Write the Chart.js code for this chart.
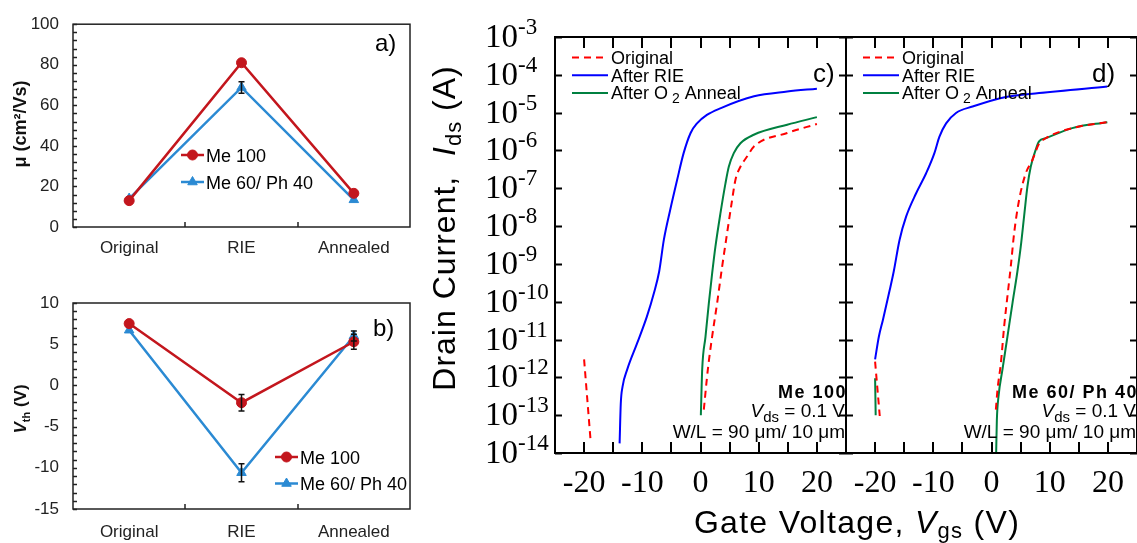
<!DOCTYPE html>
<html>
<head>
<meta charset="utf-8">
<title>Mobility, threshold voltage and transfer curves</title>
<script src="https://cdn.jsdelivr.net/npm/chart.js@4.4.1/dist/chart.umd.min.js"></script>
<style>
  body { margin: 0; background: #fff; }
  #wrap { position: relative; width: 1137px; height: 543px; overflow: hidden; }
  canvas { position: absolute; }
</style>
</head>
<body>
<div id="wrap">
  <canvas id="muChart" width="420" height="270" style="left:0;top:0"></canvas>
  <canvas id="vthChart" width="420" height="273" style="left:0;top:270px"></canvas>
  <canvas id="me100Chart" width="717" height="543" style="left:420px;top:0"></canvas>
  <canvas id="me60Chart" width="331" height="543" style="left:826px;top:0"></canvas>
</div>
<script>
//---- a), b) mobility / threshold voltage per process step
const stages = ['Original', 'RIE', 'Annealed'];
const muMe100 = [13.0, 81.0, 16.6];
const muMe100Err = [0, 0, 0];
const muMe60 = [14.0, 68.8, 13.4];
const muMe60Err = [0, 2.8, 0];
const vthMe100 = [7.5, -2.1, 5.3];
const vthMe100Err = [0, 1.0, 0.9];
const vthMe60 = [6.7, -10.6, 6.0];
const vthMe60Err = [0, 1.1, 0.6];

//---- c) Me 100 transfer curves: gate voltage (V) -> drain current (A)
const cOrigV = [0.57, 1.26, 2.0, 2.86, 3.72, 4.57, 5.43, 6.0, 6.86, 8.0, 9.15, 14.9, 20];
const cOrigI = [1.4e-13, 1.6e-12, 1.2e-11, 9.3e-11, 8.5e-10, 6.5e-9, 4.9e-8, 1.66e-7, 3.7e-7, 6.9e-7, 1.26e-6, 2.9e-6, 5.0e-6];
const cOrigTailV = [-20, -18.9];
const cOrigTailI = [3.0e-12, 2.3e-14];
const cRieV = [-13.9, -13.7, -13.4, -12.6, -10.9, -9.2, -8.0, -7.1, -6.3, -5.2, -4.0, -2.9, -1.7, -0.6, 1.1, 3.4, 9.2, 14.9, 20];
const cRieI = [1.8e-14, 2.0e-13, 5.6e-13, 1.6e-12, 7.9e-12, 4.1e-11, 1.7e-10, 6.3e-10, 4.3e-9, 2.7e-8, 1.7e-7, 8.5e-7, 2.9e-6, 5.2e-6, 8.7e-6, 1.3e-5, 2.7e-5, 3.6e-5, 4.3e-5];
const cAnnV = [0.06, 0.29, 0.86, 1.43, 2.0, 2.57, 3.43, 4.29, 4.86, 5.72, 6.86, 9.15, 14.9, 20];
const cAnnI = [1.0e-13, 1.6e-12, 1.2e-11, 9.1e-11, 5.6e-10, 2.9e-9, 2.2e-8, 1.35e-7, 3.7e-7, 8.5e-7, 1.55e-6, 2.6e-6, 4.8e-6, 7.6e-6];

//---- d) Me 60/ Ph 40 transfer curves
const dOrigV = [0.75, 1.03, 1.6, 2.17, 2.74, 3.31, 3.89, 4.74, 5.89, 7.03, 8.17, 9.3, 13.87, 19.9];
const dOrigI = [1.4e-13, 4.7e-13, 2.3e-12, 2.2e-11, 1.4e-10, 8.5e-10, 6.5e-9, 4.9e-8, 2.5e-7, 5.6e-7, 1.5e-6, 2.1e-6, 3.9e-6, 5.6e-6];
const dOrigTailV = [-20, -19.2];
const dOrigTailI = [2.6e-12, 9.5e-14];
const dRieV = [-20, -19.35, -18.66, -17.5, -16.8, -15.8, -14.66, -12.95, -11.23, -9.81, -8.96, -7.8, -6.1, -3.25, 2.46, 8.17, 19.9];
const dRieI = [3.0e-12, 1.2e-11, 3.3e-11, 2.0e-10, 6.3e-10, 4.3e-9, 1.8e-8, 7.4e-8, 2.5e-7, 8.5e-7, 2.3e-6, 5.2e-6, 9.8e-6, 1.45e-5, 2.6e-5, 3.3e-5, 4.9e-5];
const dAnnV = [0.8, 0.92, 1.2, 1.88, 2.74, 3.6, 4.45, 5.03, 5.6, 6.17, 6.74, 7.6, 8.17, 9.3, 13.87, 19.9];
const dAnnI = [1.0e-14, 7.4e-14, 3.1e-13, 1.6e-12, 1.2e-11, 9.1e-11, 6.3e-10, 2.9e-9, 1.8e-8, 1.1e-7, 3.7e-7, 1.05e-6, 1.74e-6, 2.1e-6, 3.9e-6, 5.6e-6];
const dAnnTailV = [-20, -19.9];
const dAnnTailI = [9.5e-13, 1.0e-13];

const decades = [-14, -13, -12, -11, -10, -9, -8, -7, -6, -5, -4, -3];
const gateTicks = [-25, -20, -15, -10, -5, 0, 5, 10, 15, 20, 25];

const sans = "'Liberation Sans', Arial, sans-serif";
const serif = "'Liberation Serif', 'Times New Roman', serif";
const red = '#C3161D';
const blue = '#2B8AD3';

// text made of runs with their own font / vertical shift (sub- and superscripts)
function richText(ctx, parts, x, y, align, angle) {
  ctx.save();
  ctx.translate(x, y);
  if (angle) ctx.rotate(angle);
  ctx.textBaseline = 'alphabetic';
  ctx.textAlign = 'left';
  let w = 0;
  parts.forEach(p => {
    ctx.font = p.font;
    ctx.letterSpacing = p.ls || '0px';
    p.w = ctx.measureText(p.t).width;
    w += p.w;
  });
  let cx = align === 'right' ? -w : align === 'center' ? -w / 2 : 0;
  parts.forEach(p => {
    ctx.font = p.font;
    ctx.letterSpacing = p.ls || '0px';
    ctx.fillStyle = p.color || '#000';
    ctx.fillText(p.t, cx, p.dy || 0);
    cx += p.w;
  });
  ctx.restore();
}

// plot frame with short ticks pointing inwards
const boxTicks = {
  id: 'boxTicks',
  afterDraw(chart, args, o) {
    const {ctx, chartArea: a, scales: {x, y}} = chart;
    ctx.save();
    ctx.strokeStyle = o.color;
    ctx.lineWidth = o.width;
    ctx.beginPath();
    (o.yTicks || []).forEach(v => {
      const py = Math.round(y.getPixelForValue(v)) + 0.5;
      ctx.moveTo(a.left, py); ctx.lineTo(a.left + o.yLen, py);
      if (o.mirror) { ctx.moveTo(a.right, py); ctx.lineTo(a.right - o.yLen, py); }
    });
    let xs = [];
    if (o.between) {
      for (let i = 0; i < chart.data.labels.length - 1; i++) {
        xs.push((x.getPixelForValue(i) + x.getPixelForValue(i + 1)) / 2);
      }
    } else {
      xs = (o.xTicks || []).map(v => x.getPixelForValue(v));
    }
    xs.forEach(px => {
      px = Math.round(px);
      ctx.moveTo(px, a.bottom); ctx.lineTo(px, a.bottom - o.xLen);
      if (o.mirror) { ctx.moveTo(px, a.top); ctx.lineTo(px, a.top + o.xLen); }
    });
    ctx.stroke();
    ctx.strokeRect(a.left, a.top, a.right - a.left, a.bottom - a.top);
    ctx.restore();
  }
};

// vertical error bars with caps, from dataset.errors
const errorBars = {
  id: 'errorBars',
  afterDatasetsDraw(chart) {
    const {ctx, scales: {y}} = chart;
    ctx.save();
    ctx.strokeStyle = '#111';
    ctx.lineWidth = 1.5;
    chart.data.datasets.forEach((ds, di) => {
      const meta = chart.getDatasetMeta(di);
      (ds.errors || []).forEach((e, i) => {
        if (!e) return;
        const px = meta.data[i].x;
        const top = y.getPixelForValue(ds.data[i] + e);
        const bot = y.getPixelForValue(ds.data[i] - e);
        ctx.beginPath();
        ctx.moveTo(px, top); ctx.lineTo(px, bot);
        ctx.moveTo(px - 3, top); ctx.lineTo(px + 3, top);
        ctx.moveTo(px - 3, bot); ctx.lineTo(px + 3, bot);
        ctx.stroke();
      });
    });
    ctx.restore();
  }
};

// series key drawn inside the plot
const seriesKey = {
  id: 'seriesKey',
  afterDraw(chart, args, o) {
    const ctx = chart.ctx;
    o.rows.forEach((di, k) => {
      const ds = chart.data.datasets[di];
      const y = o.y + k * o.gap;
      ctx.save();
      ctx.strokeStyle = ds.borderColor;
      ctx.lineWidth = ds.borderWidth;
      ctx.setLineDash(ds.borderDash || []);
      ctx.beginPath();
      ctx.moveTo(o.x, y); ctx.lineTo(o.x + o.len, y);
      ctx.stroke();
      ctx.setLineDash([]);
      if (ds.pointStyle && ds.pointRadius) {
        ctx.fillStyle = ds.backgroundColor;
        ctx.lineWidth = 1;
        Chart.helpers.drawPoint(ctx, {pointStyle: ds.pointStyle, radius: ds.pointRadius, borderWidth: 1, rotation: 0}, o.x + o.len / 2, y);
      }
      ctx.restore();
      const parts = ds.labelParts || [{t: ds.label, font: o.font}];
      richText(chart.ctx, parts, o.x + o.len + o.pad, y + o.shift, 'left');
    });
  }
};

// free text: panel letters, axis titles, device notes
const notes = {
  id: 'notes',
  afterDraw(chart, args, o) {
    o.items.forEach(it => richText(chart.ctx, it.parts, it.x, it.y, it.align, it.angle));
  }
};

// 10^n labels on the log current axis
const decadeLabels = {
  id: 'decadeLabels',
  afterDraw(chart, args, o) {
    const {ctx, scales: {y}} = chart;
    decades.forEach(n => {
      const py = y.getPixelForValue(Math.pow(10, n));
      richText(ctx, [
        {t: '10', font: '33px ' + serif},
        {t: '-' + Math.abs(n), font: '23px ' + serif, dy: -13}
      ], o.x, py + 10, 'left');
    });
  }
};

const tickFont = {family: sans, size: 17};
const flat = {display: false};
const noGrid = {display: false, drawTicks: false};

function stepChart(id, a, b, aErr, bErr, yMin, yMax, yStep, minor, pad, xH, xPad, yTitle, letter, key) {
  return new Chart(document.getElementById(id), {
    type: 'line',
    data: {
      labels: stages,
      datasets: [{
        label: 'Me 100',
        data: a,
        errors: aErr,
        borderColor: red,
        backgroundColor: red,
        borderWidth: 2.5,
        pointStyle: 'circle',
        pointRadius: 5,
        pointBorderWidth: 1,
        tension: 0
      }, {
        label: 'Me 60/ Ph 40',
        data: b,
        errors: bErr,
        borderColor: blue,
        backgroundColor: blue,
        borderWidth: 2.5,
        pointStyle: 'triangle',
        pointRadius: 5.5,
        pointBorderWidth: 1,
        tension: 0
      }]
    },
    options: {
      responsive: false,
      animation: false,
      layout: {padding: {left: 0, right: 10, top: pad, bottom: 0}},
      plugins: {
        legend: flat,
        tooltip: {enabled: false},
        boxTicks: {color: '#222', width: 1.5, yTicks: minor, yLen: 4, between: true, xLen: 5},
        seriesKey: key,
        notes: {items: [yTitle, letter]}
      },
      scales: {
        x: {
          offset: true,
          grid: noGrid,
          border: flat,
          ticks: {font: tickFont, color: '#222', padding: xPad},
          afterFit: s => { s.height = xH; }
        },
        y: {
          min: yMin,
          max: yMax,
          grid: noGrid,
          border: flat,
          ticks: {stepSize: yStep, font: tickFont, color: '#222', padding: 14},
          afterFit: s => { s.width = 73; }
        }
      }
    },
    plugins: [boxTicks, errorBars, seriesKey, notes]
  });
}

const muMinor = [];
for (let v = 0; v <= 100; v += 4) muMinor.push(v);
const vthMinor = [];
for (let v = -15; v <= 10; v += 1) vthMinor.push(v);

stepChart('muChart', muMe100, muMe60, muMe100Err, muMe60Err, 0, 100, 20, muMinor, 22, 43, 11,
  {parts: [{t: 'μ (cm²/Vs)', font: 'bold 18px ' + sans, color: '#111'}], x: 26, y: 124, align: 'center', angle: -Math.PI / 2},
  {parts: [{t: 'a)', font: '24px ' + sans}], x: 375, y: 51, align: 'left'},
  {rows: [0, 1], x: 181, y: 155, gap: 27, len: 23, pad: 2, shift: 6.5, font: '18px ' + sans});

stepChart('vthChart', vthMe100, vthMe60, vthMe100Err, vthMe60Err, -15, 10, 5, vthMinor, 33, 34, 13,
  {parts: [
    {t: 'V', font: 'italic bold 17px ' + sans, color: '#111'},
    {t: 'th', font: 'bold 11px ' + sans, dy: 4, color: '#111'},
    {t: ' (V)', font: 'bold 17px ' + sans, color: '#111'}
  ], x: 26, y: 139, align: 'center', angle: -Math.PI / 2},
  {parts: [{t: 'b)', font: '24px ' + sans}], x: 373, y: 66, align: 'left'},
  {rows: [0, 1], x: 275, y: 187, gap: 26.5, len: 23, pad: 2, shift: 6.5, font: '18px ' + sans});

//---- transfer curve panels
const pts = (vs, is) => vs.map((v, i) => ({x: v, y: is[i]}));
const anneal = [
  {t: 'After O', font: '18px ' + sans},
  {t: ' 2', font: '14px ' + sans, dy: 4},
  {t: ' Anneal', font: '18px ' + sans}
];

function curve(label, vs, is, color, dash, parts) {
  return {
    label: label,
    labelParts: parts,
    data: pts(vs, is),
    borderColor: color,
    borderWidth: 2,
    borderDash: dash,
    pointRadius: 0,
    cubicInterpolationMode: 'monotone',
    fill: false
  };
}

function transferChart(id, sets, left, right, showY, extra, keyX, letter, device) {
  const items = [letter].concat(device, extra);
  return new Chart(document.getElementById(id), {
    type: 'line',
    data: {datasets: sets},
    options: {
      responsive: false,
      animation: false,
      layout: {autoPadding: false, padding: {left: left, right: right, top: 37, bottom: 0}},
      plugins: {
        legend: flat,
        tooltip: {enabled: false},
        boxTicks: {color: '#000', width: 2, yTicks: decades.map(n => Math.pow(10, n)), yLen: 7, mirror: true, xTicks: gateTicks, xLen: 11},
        seriesKey: {rows: [0, 1, 2], x: keyX, y: 57.5, gap: 17.7, len: 36, pad: 3, shift: 6.5, font: '18px ' + sans},
        notes: {items: items},
        decadeLabels: {x: 65}
      },
      scales: {
        x: {
          type: 'linear',
          min: -25,
          max: 25,
          grid: noGrid,
          border: flat,
          ticks: {
            stepSize: 5,
            autoSkip: false,
            maxRotation: 0,
            padding: 11,
            font: {family: serif, size: 32},
            color: '#000',
            callback: v => (v % 10 === 0 && Math.abs(v) < 25) ? String(v) : ''
          },
          afterFit: s => { s.height = 90; }
        },
        y: {
          type: 'logarithmic',
          display: showY,
          min: 1e-14,
          max: 1e-3,
          grid: noGrid,
          border: flat,
          ticks: {display: false},
          afterFit: s => { s.width = showY ? 135 : 0; }
        }
      }
    },
    plugins: showY ? [boxTicks, seriesKey, notes, decadeLabels] : [boxTicks, seriesKey, notes]
  });
}

function deviceNotes(name, xr) {
  return [
    {parts: [{t: name, font: 'bold 18px ' + sans, ls: '1.5px'}], x: xr + 2, y: 398, align: 'right'},
    {parts: [
      {t: 'V', font: 'italic 19px ' + sans},
      {t: 'ds', font: '15px ' + sans, dy: 5},
      {t: ' = 0.1 V', font: '19px ' + sans}
    ], x: xr, y: 417, align: 'right'},
    {parts: [{t: 'W/L = 90 μm/ 10 μm', font: '19px ' + sans}], x: xr, y: 438, align: 'right'}
  ];
}

const axisTitles = [
  {parts: [
    {t: 'Drain Current,  ', font: '32px ' + sans, ls: '1px'},
    {t: 'I', font: 'italic 32px ' + sans, ls: '1px'},
    {t: 'ds', font: '22px ' + sans, dy: 6, ls: '1px'},
    {t: ' (A)', font: '32px ' + sans, ls: '1px'}
  ], x: 35, y: 228, align: 'center', angle: -Math.PI / 2},
  {parts: [
    {t: 'Gate Voltage, ', font: '32px ' + sans, ls: '1.3px'},
    {t: 'V', font: 'italic 32px ' + sans, ls: '1.3px'},
    {t: 'gs', font: '22px ' + sans, dy: 5, ls: '1.3px'},
    {t: ' (V)', font: '32px ' + sans, ls: '1.3px'}
  ], x: 437, y: 533, align: 'center'}
];

transferChart('me100Chart', [
  curve('Original', cOrigV, cOrigI, '#FF0000', [7, 5]),
  curve('After RIE', cRieV, cRieI, '#0000FF', []),
  curve('After O2 Anneal', cAnnV, cAnnI, '#008040', [], anneal),
  curve('Original', cOrigTailV, cOrigTailI, '#FF0000', [7, 5])
], 0, 291, true, axisTitles, 152,
  {parts: [{t: 'c)', font: '26px ' + sans}], x: 393, y: 82, align: 'left'},
  deviceNotes('Me 100', 425));

transferChart('me60Chart', [
  curve('Original', dOrigV, dOrigI, '#FF0000', [7, 5]),
  curve('After RIE', dRieV, dRieI, '#0000FF', []),
  curve('After O2 Anneal', dAnnV, dAnnI, '#008040', [], anneal),
  curve('Original', dOrigTailV, dOrigTailI, '#FF0000', [7, 5]),
  curve('After O2 Anneal', dAnnTailV, dAnnTailI, '#008040', [])
], 20, 20, false, [], 37,
  {parts: [{t: 'd)', font: '26px ' + sans}], x: 266, y: 82, align: 'left'},
  deviceNotes('Me 60/ Ph 40', 310));
</script>
</body>
</html>
